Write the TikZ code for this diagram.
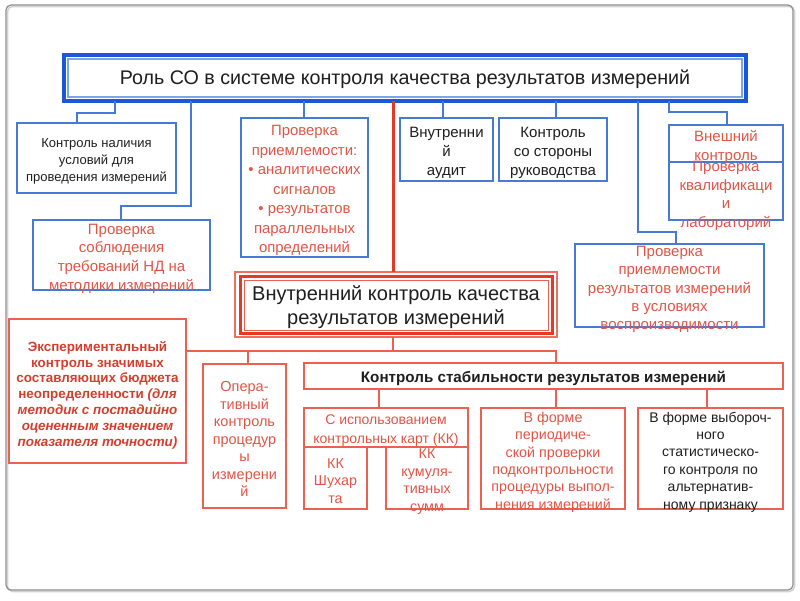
\documentclass[tikz,border=0pt]{standalone}
\usepackage{fontspec}
\setmainfont{Liberation Sans}
\definecolor{frameg}{RGB}{140,140,140}
\definecolor{boxblue}{RGB}{70,122,212}
\definecolor{titleblue}{RGB}{28,88,214}
\definecolor{lightblue}{RGB}{120,165,235}
\definecolor{boxred}{RGB}{236,96,80}
\definecolor{lightred}{RGB}{240,112,96}
\definecolor{thickred}{RGB}{228,58,35}
\definecolor{redtxt}{RGB}{226,84,70}
\definecolor{boldred}{RGB}{212,62,46}
\definecolor{blacktxt}{RGB}{30,30,30}
\newcommand\fsz[2]{\fontsize{#1}{#2}\selectfont}
\tikzset{
  bbox/.style={draw=boxblue, line width=1.3, inner sep=0pt, outer sep=0pt},
  rbox/.style={draw=boxred, line width=1.3, inner sep=0pt, outer sep=0pt},
  txt/.style={align=center, inner sep=0pt, text=blacktxt},
  rtxt/.style={align=center, inner sep=0pt, text=redtxt},
  bline/.style={draw=boxblue, line width=1.5},
  rline/.style={draw=boxred, line width=1.3},
  redthick/.style={draw=thickred, line width=3},
}
\begin{document}
\begin{tikzpicture}[x=1pt,y=-1pt]
\useasboundingbox (0,0) rectangle (800,600);
% frame
\draw[gray!35, line width=1.5, rounded corners=5] (7.5,6.5) rectangle (794.5,591.5);
\draw[frameg, line width=1.2, rounded corners=5] (6,5) rectangle (793,590);

% title
\node[draw=titleblue, line width=4, minimum width=682, minimum height=46, inner sep=0pt, outer sep=0pt] (title) at (405,78) {};
\draw[lightblue, line width=1.2] ([shift={(4,4)}]title.north west) rectangle ([shift={(-4,-4)}]title.south east);
\node[txt, font=\fsz{19.7}{23}] (titlet) at (405,79) {Роль СО в системе контроля качества результатов измерений};

% upper boxes
\node[bbox, minimum width=159, minimum height=70] (n1) at (96.5,158) {};
\node[txt, font=\fsz{13}{17}] (n1t) at (96.5,161.5) {Контроль наличия\\условий для\\проведения измерений};

\node[bbox, minimum width=177, minimum height=70] (n2) at (121.5,255) {};
\node[rtxt, font=\fsz{15}{18.7}] (n2t) at (121.5,258.5) {Проверка\\соблюдения\\требований НД на\\методики измерений};

\node[bbox, minimum width=127, minimum height=139] (n3) at (304.5,187.5) {};
\node[rtxt, font=\fsz{14.9}{19.5}] (n3t) at (304.5,190.5) {Проверка\\приемлемости:\\• аналитических\\сигналов\\• результатов\\параллельных\\определений};

\node[bbox, minimum width=93, minimum height=63] (n4) at (446.5,149.5) {};
\node[txt, font=\fsz{15}{19}] (n4t) at (446.5,152.5) {Внутренни\\й\\аудит};

\node[bbox, minimum width=108, minimum height=63] (n5) at (553,149.5) {};
\node[txt, font=\fsz{15}{19}] (n5t) at (553,152.5) {Контроль\\со стороны\\руководства};

\node[bbox, minimum width=114, minimum height=37] (n6) at (726,143.5) {};
\node[bbox, minimum width=114, minimum height=58] (n7) at (726,191) {};
\node[rtxt, font=\fsz{15}{19}] (n6t) at (726,147) {Внешний\\контроль};
\node[rtxt, font=\fsz{15}{18.7}] (n7t) at (726,196) {Проверка\\квалификаци\\и\\лабораторий};

\node[bbox, minimum width=189, minimum height=83] (n8) at (669.5,285.5) {};
\node[rtxt, font=\fsz{15}{18.4}] (n8t) at (669.5,289.5) {Проверка\\приемлемости\\результатов измерений\\в условиях\\воспроизводимости};

% upper connectors
\draw[bline] (title.south -| 115,0) |- (77,113) -- (n1.north -| 77,0);
\draw[bline] (title.south -| 191,0) |- (121,206) -- (n2.north -| 121,0);
\draw[bline] (title.south -| 304,0) -- (n3.north -| 304,0);
\draw[bline] (title.south -| 443,0) -- (n4.north -| 443,0);
\draw[bline] (title.south -| 556,0) -- (n5.north -| 556,0);
\draw[bline] (title.south -| 638,0) |- (676,232) -- (n8.north -| 676,0);
\draw[bline] (title.south -| 669,0) |- (727,112) -- (n6.north -| 727,0);

% internal control box
\node[draw=lightred, line width=1.2, minimum width=322, minimum height=65, inner sep=0pt, outer sep=0pt] (ivk) at (396,304.5) {};
\draw[thickred, line width=3] ([shift={(5,4.5)}]ivk.north west) rectangle ([shift={(-5,-4)}]ivk.south east);
\draw[boxred, line width=1] ([shift={(9,8.5)}]ivk.north west) rectangle ([shift={(-9,-7)}]ivk.south east);
\node[txt, font=\fsz{20}{24}] (ivkt) at (396,307.5) {Внутренний контроль качества\\результатов измерений};
\draw[redthick] (title.south -| 393,0) -- (ivk.north -| 393,0);

% lower boxes
\node[rbox, minimum width=177, minimum height=144] (exp) at (97.5,391) {};
\node[align=center, inner sep=0pt, text=boldred, font=\fsz{13.4}{15.8}\bfseries] (expt) at (97.5,395) {Экспериментальный\\контроль значимых\\составляющих бюджета\\неопределенности \textit{(для}\\\textit{методик с постадийно}\\\textit{оцененным значением}\\\textit{показателя точности)}};

\node[rbox, minimum width=83, minimum height=144] (oper) at (244.5,436) {};
\node[rtxt, font=\fsz{14.5}{17.5}] (opert) at (244.5,439) {Опера-\\тивный\\контроль\\процедур\\ы\\измерени\\й};

\node[rbox, minimum width=479, minimum height=26] (stab) at (543.5,376) {};
\node[txt, font=\fsz{15.2}{17}\bfseries] (stabt) at (543.5,378.5) {Контроль стабильности результатов измерений};

\node[rbox, minimum width=164, minimum height=39] (kk) at (386,427.5) {};
\node[rtxt, font=\fsz{14}{18.5}] (kkt) at (386,430.5) {С использованием\\контрольных карт (КК)};

\node[rbox, minimum width=63, minimum height=62] (shu) at (335.5,478) {};
\node[rtxt, font=\fsz{14.3}{17.5}] (shut) at (335.5,481) {КК\\Шухар\\та};

\node[rbox, minimum width=82, minimum height=62] (kum) at (427,478) {};
\node[rtxt, font=\fsz{14.3}{17.5}] (kumt) at (427,481.5) {КК\\кумуля-\\тивных\\сумм};

\node[rbox, minimum width=144, minimum height=101] (per) at (553,458.5) {};
\node[rtxt, font=\fsz{14.3}{17.4}] (pert) at (553,462) {В форме\\периодиче-\\ской проверки\\подконтрольности\\процедуры выпол-\\нения измерений};

\node[rbox, minimum width=145, minimum height=101] (vyb) at (710.5,458.5) {};
\node[txt, font=\fsz{14}{17.4}] (vybt) at (710.5,462) {В форме выбороч-\\ного\\статистическо-\\го контроля по\\альтернатив-\\ному признаку};

% lower connectors
\draw[rline] (ivk.south -| 393,0) -- (393,351);
\draw[rline] (exp.east |- 0,351) -- (556,351) -- (stab.north -| 556,0);
\draw[rline] (248,351) -- (oper.north -| 248,0);
\draw[rline] (stab.south -| 379,0) -- (kk.north -| 379,0);
\draw[rline] (stab.south -| 556,0) -- (per.north -| 556,0);
\draw[rline] (stab.south -| 707,0) -- (vyb.north -| 707,0);
\end{tikzpicture}
\end{document}
